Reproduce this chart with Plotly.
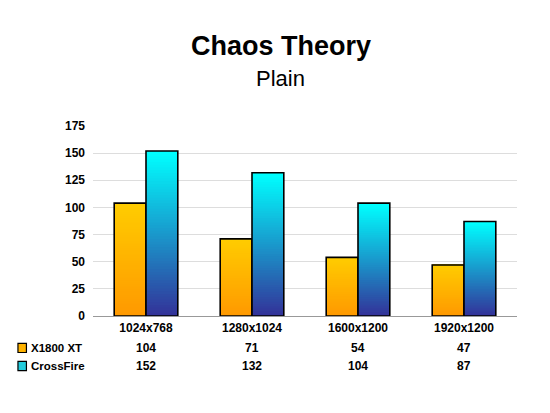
import plotly.graph_objects as go

categories = ["1024x768", "1280x1024", "1600x1200", "1920x1200"]
x1800 = [104, 71, 54, 47]
crossfire = [152, 132, 104, 87]
series_names = ["X1800 XT", "CrossFire"]

FONT = "Arial, Liberation Sans, sans-serif"
N_SLICES = 60


def mix(c1, c2, t):
    return "rgb({},{},{})".format(*[round(a + (b - a) * t) for a, b in zip(c1, c2)])


fig = go.Figure()

# gradient: each slice runs from its base up to the bar top, later ones cover earlier
for name, vals, bottom, top, grp in [
    (series_names[0], x1800, (255, 153, 0), (255, 204, 0), "a"),
    (series_names[1], crossfire, (51, 51, 153), (0, 255, 255), "b"),
]:
    for i in range(N_SLICES):
        col = mix(bottom, top, i / (N_SLICES - 1))
        fig.add_trace(go.Bar(
            x=categories, y=[v * (N_SLICES - i) / N_SLICES for v in vals],
            base=[v * i / N_SLICES for v in vals],
            offsetgroup=grp, marker=dict(color=col, line=dict(width=0)),
            showlegend=False, hoverinfo="skip"))
    # outline
    fig.add_trace(go.Bar(
        x=categories, y=vals, name=name, offsetgroup=grp,
        marker=dict(color="rgba(0,0,0,0)", line=dict(color="black", width=1.6)),
        showlegend=False))

# data table under the chart
row_y = [-0.168, -0.263]
key_cols = ["#FFB300", "#22CCDD"]
for r, (name, vals) in enumerate([(series_names[0], x1800), (series_names[1], crossfire)]):
    for c, v in zip(categories, vals):
        fig.add_annotation(x=c, y=row_y[r], xref="x", yref="paper", text="<b>%d</b>" % v,
                           yanchor="middle", showarrow=False,
                           font=dict(family=FONT, size=12, color="black"))
    fig.add_annotation(x=-0.151, y=row_y[r], xref="paper", yref="paper", text="<b>%s</b>" % name,
                       xanchor="left", yanchor="middle", showarrow=False,
                       font=dict(family=FONT, size=11.5, color="black"))
    fig.add_shape(type="rect", xref="paper", yref="paper",
                  x0=-0.177, x1=-0.157, y0=row_y[r] - 0.024, y1=row_y[r] + 0.024,
                  fillcolor=key_cols[r], line=dict(color="black", width=1.2))

# titles
fig.add_annotation(x=0.443, y=1.42, xref="paper", yref="paper", text="<b>Chaos Theory</b>",
                   xanchor="center", yanchor="middle", showarrow=False,
                   font=dict(family=FONT, size=27, color="black"))
fig.add_annotation(x=0.443, y=1.25, xref="paper", yref="paper", text="Plain",
                   xanchor="center", yanchor="middle", showarrow=False,
                   font=dict(family=FONT, size=22, color="black"))

fig.update_layout(
    width=550, height=413,
    paper_bgcolor="white", plot_bgcolor="white",
    margin=dict(l=85, r=41, t=118, b=105),
    barmode="group", bargap=0.4, bargroupgap=0,
    font=dict(family=FONT),
)
fig.update_xaxes(showline=True, linecolor="#999999", linewidth=1, ticks="",
                 ticklabelstandoff=1,
                 tickfont=dict(family=FONT, size=12, color="black", weight="bold"), showgrid=False)
fig.update_yaxes(range=[0, 175], dtick=25, showgrid=True, gridcolor="#DDDDDD",
                 zeroline=False, ticks="", ticklabelstandoff=7,
                 tickfont=dict(family=FONT, size=12, color="black", weight="bold"))

fig.write_html("out.html")
